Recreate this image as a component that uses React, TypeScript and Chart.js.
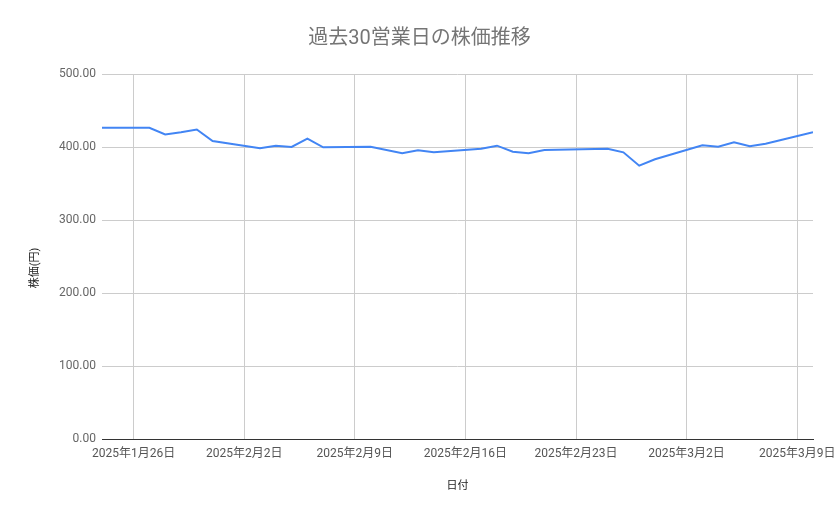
import { useEffect, useRef } from 'react';
import { Chart, registerables } from 'chart.js';

Chart.register(...registerables);

// 営業日 (30日分)
const dates = [
  '2025-01-24', '2025-01-27', '2025-01-28', '2025-01-29', '2025-01-30', '2025-01-31',
  '2025-02-03', '2025-02-04', '2025-02-05', '2025-02-06', '2025-02-07',
  '2025-02-10', '2025-02-12', '2025-02-13', '2025-02-14',
  '2025-02-17', '2025-02-18', '2025-02-19', '2025-02-20', '2025-02-21',
  '2025-02-25', '2025-02-26', '2025-02-27', '2025-02-28',
  '2025-03-03', '2025-03-04', '2025-03-05', '2025-03-06', '2025-03-07',
  '2025-03-10',
];

const prices = [
  426.4, 426.2, 417.1, 420.1, 424.0, 408.2,
  398.2, 401.8, 400.0, 411.4, 399.6,
  400.4, 391.4, 395.5, 392.7,
  397.5, 401.8, 393.6, 391.4, 395.9,
  397.7, 392.7, 374.4, 383.2,
  402.3, 400.4, 406.4, 401.0, 404.5,
  420.1,
];

const tickDates = [
  '2025-01-26', '2025-02-02', '2025-02-09', '2025-02-16',
  '2025-02-23', '2025-03-02', '2025-03-09',
];

const yTicks = [0, 100, 200, 300, 400, 500];

const DAY = 86400000;
const toDay = (s: string) => {
  const [y, m, d] = s.split('-').map(Number);
  return Date.UTC(y, m - 1, d) / DAY;
};
const fmtDay = (n: number) => {
  const dt = new Date(n * DAY);
  return `${dt.getUTCFullYear()}年${dt.getUTCMonth() + 1}月${dt.getUTCDate()}日`;
};

const FONT = "Roboto, 'Noto Sans CJK JP', sans-serif";

// 縦軸タイトル
const yTitlePlugin = {
  id: 'yTitle',
  afterDraw(chart: Chart) {
    const ctx = chart.ctx;
    ctx.save();
    ctx.translate(35, 268);
    ctx.rotate(-Math.PI / 2);
    ctx.font = `11px ${FONT}`;
    ctx.fillStyle = '#222222';
    ctx.textAlign = 'center';
    ctx.textBaseline = 'middle';
    ctx.fillText('株価(円)', 0, 0);
    ctx.restore();
  },
};

export default function App() {
  const chartRef = useRef<HTMLCanvasElement>(null);
  const chartInstanceRef = useRef<Chart | null>(null);

  useEffect(() => {
    if (!chartRef.current) return;
    const ctx = chartRef.current.getContext('2d');
    if (!ctx) return;

    if (chartInstanceRef.current) {
      chartInstanceRef.current.destroy();
    }

    chartInstanceRef.current = new Chart(ctx, {
      type: 'line',
      data: {
        datasets: [{
          label: '株価',
          data: dates.map((d, i) => ({ x: toDay(d), y: prices[i] })),
          borderColor: '#4285F4',
          borderWidth: 2,
          pointRadius: 0,
          tension: 0,
          fill: false,
        }],
      },
      plugins: [yTitlePlugin],
      options: {
        animation: false,
        responsive: true,
        maintainAspectRatio: false,
        layout: { padding: 0 },
        plugins: {
          legend: { display: false },
          tooltip: { enabled: false },
          title: {
            display: true,
            text: '過去30営業日の株価推移',
            color: '#757575',
            font: { size: 20, family: FONT, weight: 'normal' },
            padding: { top: 27, bottom: 23 },
          },
        },
        scales: {
          x: {
            type: 'linear',
            min: toDay(dates[0]),
            max: toDay(dates[dates.length - 1]),
            afterBuildTicks: (scale: any) => {
              scale.ticks = tickDates.map((d) => ({ value: toDay(d) }));
            },
            afterFit: (scale: any) => {
              scale.height = 80;
              scale.paddingLeft = 0;
              scale.paddingRight = 26;
            },
            grid: { color: '#cccccc', drawTicks: false },
            border: { display: true, color: '#333333', width: 1 },
            ticks: {
              autoSkip: false,
              maxRotation: 0,
              padding: 8,
              color: '#555555',
              font: { size: 12, family: FONT },
              callback: (v: any) => fmtDay(Number(v)),
            },
            title: {
              display: true,
              text: '日付',
              color: '#222222',
              font: { size: 11, family: FONT },
              padding: { top: 0, bottom: 26 },
            },
          },
          y: {
            min: yTicks[0],
            max: yTicks[yTicks.length - 1],
            afterBuildTicks: (scale: any) => {
              scale.ticks = yTicks.map((v) => ({ value: v }));
            },
            afterFit: (scale: any) => { scale.width = 102; },
            grid: {
              drawTicks: false,
              color: (c: any) => (c.tick && c.tick.value === 0 ? '#333333' : '#cccccc'),
            },
            border: { display: false },
            ticks: {
              padding: 6,
              color: '#666666',
              font: { size: 12, family: FONT },
              callback: (v: any) => Number(v).toFixed(2),
            },
          },
        },
      },
    });

    return () => {
      if (chartInstanceRef.current) {
        chartInstanceRef.current.destroy();
        chartInstanceRef.current = null;
      }
    };
  }, []);

  return (
    <div style={{ position: 'fixed', left: 0, top: 0, width: 839, height: 519, background: '#ffffff' }}>
      <canvas ref={chartRef} />
    </div>
  );
}
